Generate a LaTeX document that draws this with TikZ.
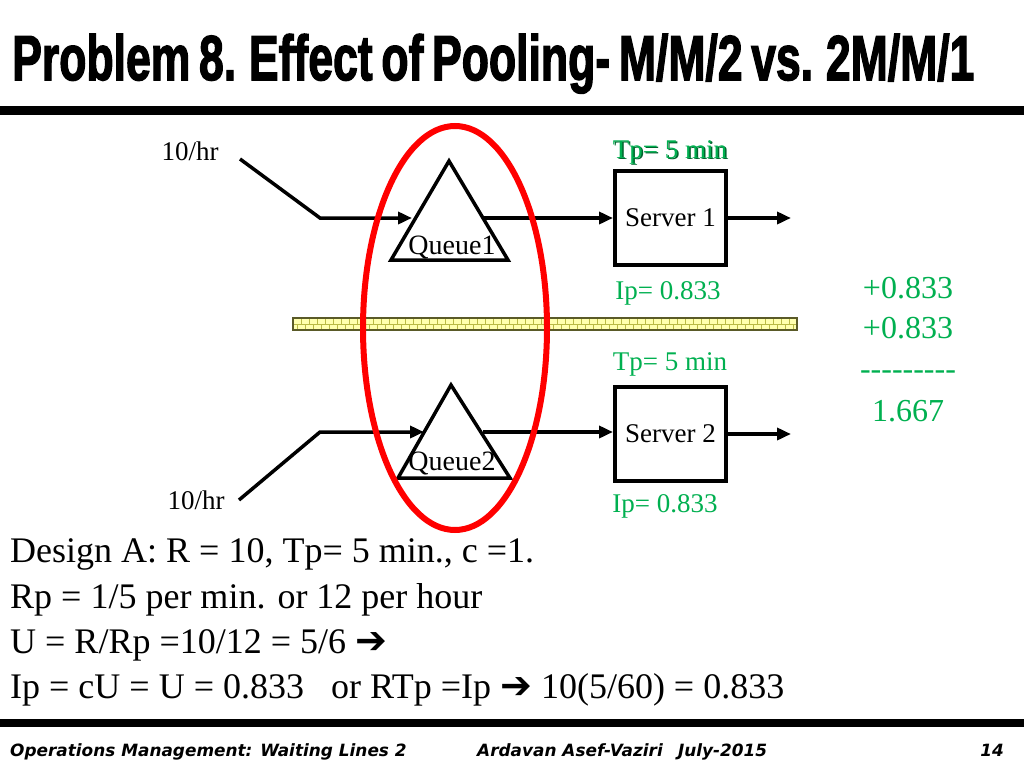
\documentclass[tikz,border=0pt]{standalone}
\usepackage{fontspec}
\setmainfont{Liberation Serif}
\newfontfamily\symfont{DejaVu Sans}
\newfontfamily\footfont{DejaVu Sans}
\newfontface\titlefont{Liberation Sans Bold}[FakeBold=2.5,WordSpace=0.7]
\usetikzlibrary{arrows.meta}
\definecolor{pgreen}{RGB}{0,176,80}
\definecolor{pgreendark}{RGB}{0,100,45}
\definecolor{brickfill}{RGB}{255,255,175}
\definecolor{brickline}{RGB}{185,185,70}
\definecolor{brickedge}{RGB}{90,90,40}
\begin{document}
\begin{tikzpicture}[x=1pt,y=-1pt,
  flow/.style={line width=3.5pt,line join=miter,-{Triangle[length=14pt,width=12pt]}},
  qtri/.style={line width=3.5pt,line join=miter},
  server/.style={draw,fill=white,line width=4pt,minimum width=111pt,minimum height=94pt,inner sep=0pt,font=\fontsize{27}{30}\selectfont},
  lab/.style={inner sep=0pt,font=\fontsize{27}{30}\selectfont},
  qlab/.style={inner sep=0pt,font=\fontsize{28}{30}\selectfont},
  glab/.style={lab,text=pgreen},
  body/.style={anchor=base west,inner sep=0pt,font=\fontsize{36}{40}\selectfont},
  sumlab/.style={anchor=base,inner sep=0pt,text=pgreen,font=\fontsize{32}{36}\selectfont},
  foot/.style={anchor=base west,inner sep=0pt,font=\footfont\bfseries\itshape\fontsize{16.9}{18}\selectfont}]
\useasboundingbox[fill=white] (0,0) rectangle (1024,768);

% title and rules
\node[anchor=base west,inner sep=0pt] (title) at (12,80)
  {\resizebox{962pt}{46pt}{\titlefont Problem 8. Effect of Pooling- M/M/2 vs. 2M/M/1}};
\fill (0,106) rectangle (1024,115);
\fill (0,719) rectangle (1024,727);

% brick bar
\fill[brickfill] (293,318) rectangle (797,330);
\foreach \x in {293,301,...,797} \draw[brickline,line width=1pt] (\x,318) -- (\x,324);
\foreach \x in {297,305,...,797} \draw[brickline,line width=1pt] (\x,324) -- (\x,330);
\draw[brickline,line width=1pt] (293,324) -- (797,324);
\draw[brickedge,line width=1.2pt] (293,318) rectangle (797,330);

% top line
\coordinate (in1) at (240,159);
\coordinate (e1) at (320,218);
\coordinate (q1in) at (412,218);
\coordinate (q1top) at (449,161);
\coordinate (q1l) at (391,260);
\coordinate (q1r) at (508,260);
\coordinate (q1out) at (482,218);
\node[server] (s1) at (670.5,218) {Server 1};
\coordinate (o1) at (791,218);
\draw[flow] (in1) -- (e1) -- (q1in);
\draw[qtri] (q1top) -- (q1l) -- (q1r) -- cycle;
\draw[flow] (q1out) -- (s1.west);
\draw[flow] (s1.east) -- (o1);

% bottom line
\coordinate (in2) at (239,500);
\coordinate (e2) at (320,432);
\coordinate (q2in) at (424,432);
\coordinate (q2top) at (451,385);
\coordinate (q2l) at (398,478);
\coordinate (q2r) at (510,478);
\coordinate (q2out) at (483,432);
\node[server] (s2) at (670.5,434) {Server 2};
\coordinate (o2) at (791,434);
\draw[flow] (in2) -- (e2) -- (q2in);
\draw[qtri] (q2top) -- (q2l) -- (q2r) -- cycle;
\draw[flow] (q2out) -- (s2.west |- q2out);
\draw[flow] (s2.east) -- (o2);

% red ellipse
\draw[red,line width=6pt] (455,328) ellipse [x radius=92pt,y radius=202pt];

% labels
\node[lab] (r1) at (190,151) {10/hr};
\node[lab] (r2) at (196,500) {10/hr};
\node[qlab] (q1lab) at (452,247) {Queue1};
\node[qlab] (q2lab) at (452,463) {Queue2};
\node[lab,text=pgreendark] (tp1s) at (671.6,153.4) {Tp= 5 min};
\node[glab] (tp1) at (670,152) {Tp= 5 min};
\node[glab] (ip1) at (668,293) {Ip= 0.833};
\node[glab] (tp2) at (670,364) {Tp= 5 min};
\node[glab] (ip2) at (665,506) {Ip= 0.833};

% sum
\node[sumlab] (n1) at (908,298) {+0.833};
\node[sumlab] (n2) at (908,338) {+0.833};
\node[sumlab] (n3) at (908,379) {-{}-{}-{}-{}-{}-{}-{}-{}-};
\node[sumlab] (n4) at (908,421) {1.667};

% body text
\node[body] (l1) at (10,562) {Design A: R = 10, Tp= 5 min., c =1.};
\node[body] (l2) at (10,608) {Rp = 1/5 per min. or 12 per hour};
\node[body] (l3) at (10,653) {U = R/Rp =10/12 = 5/6 {\symfont\bfseries\fontsize{38}{38}\selectfont ➔}};
\node[body] (l4) at (10,698) {Ip = cU = U = 0.833\hspace{0.5em} or RTp =Ip {\symfont\bfseries\fontsize{38}{38}\selectfont ➔} 10(5/60) = 0.833};

% footer
\node[foot] (f1) at (10,756) {Operations Management: Waiting Lines 2};
\node[foot] (f2) at (477,756) {Ardavan Asef-Vaziri\hspace{0.9em}July-2015};
\node[foot,anchor=base east] (f3) at (1004,756) {14};
\end{tikzpicture}
\end{document}
